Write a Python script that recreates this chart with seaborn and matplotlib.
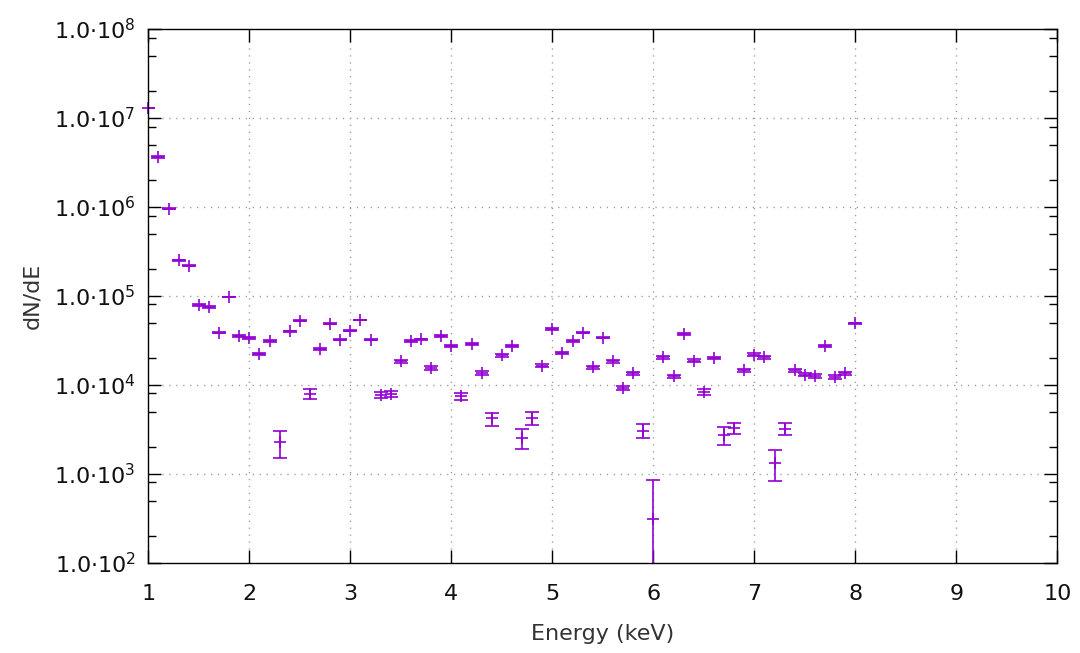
import matplotlib
matplotlib.use("Agg")
import numpy as np
import pandas as pd
import matplotlib.pyplot as plt
import seaborn as sns
from matplotlib.ticker import FixedLocator, FuncFormatter, NullFormatter

# ---- data ----
energy = [1.0, 1.1, 1.2, 1.3, 1.4, 1.5, 1.6, 1.7, 1.8, 1.9,
          2.0, 2.1, 2.2, 2.3, 2.4, 2.5, 2.6, 2.7, 2.8, 2.9,
          3.0, 3.1, 3.2, 3.3, 3.4, 3.5, 3.6, 3.7, 3.8, 3.9,
          4.0, 4.1, 4.2, 4.3, 4.4, 4.5, 4.6, 4.7, 4.8, 4.9,
          5.0, 5.1, 5.2, 5.3, 5.4, 5.5, 5.6, 5.7, 5.8, 5.9,
          6.0, 6.1, 6.2, 6.3, 6.4, 6.5, 6.6, 6.7, 6.8, 6.9,
          7.0, 7.1, 7.2, 7.3, 7.4, 7.5, 7.6, 7.7, 7.8, 7.9,
          8.0]
dnde = [1.3e7, 3.65e6, 9.5e5, 2.5e5, 2.19e5, 7.85e4, 7.5e4, 3.87e4, 9.75e4, 3.56e4,
        3.35e4, 2.21e4, 3.09e4, 2.26e3, 4.0e4, 5.28e4, 7.93e3, 2.54e4, 4.84e4, 3.23e4,
        4.07e4, 5.35e4, 3.23e4, 7.7e3, 7.9e3, 1.84e4, 3.09e4, 3.25e4, 1.55e4, 3.55e4,
        2.76e4, 7.4e3, 2.86e4, 1.36e4, 4.18e3, 2.14e4, 2.71e4, 2.54e3, 4.22e3, 1.63e4,
        4.23e4, 2.27e4, 3.12e4, 3.87e4, 1.57e4, 3.39e4, 1.83e4, 9.2e3, 1.35e4, 3.05e3,
        3.1e2, 2.04e4, 1.24e4, 3.74e4, 1.87e4, 8.4e3, 1.99e4, 2.74e3, 3.25e3, 1.45e4,
        2.19e4, 2.04e4, 1.33e3, 3.2e3, 1.45e4, 1.3e4, 1.25e4, 2.71e4, 1.22e4, 1.35e4,
        4.92e4]
dnde_err = [6.0e4, 9.0e4, 1.0e4, 2.0e3, 2.0e3, 1.5e3, 1.5e3, 700, 800, 700,
            700, 650, 650, 750, 700, 600, 1000, 650, 700, 650,
            650, 600, 650, 600, 600, 650, 700, 650, 650, 700,
            650, 600, 650, 600, 700, 650, 700, 640, 700, 650,
            700, 650, 650, 700, 600, 650, 600, 450, 600, 530,
            540, 650, 600, 700, 650, 650, 650, 610, 480, 600,
            650, 650, 500, 480, 600, 600, 600, 650, 600, 600,
            700]
y_tick_exps = [2, 3, 4, 5, 6, 7, 8]
minor_mults = [2, 5, 8]
x_ticks = [1, 2, 3, 4, 5, 6, 7, 8, 9, 10]

df = pd.DataFrame({"energy": energy, "dnde": dnde, "err": dnde_err})

purple = "#9400D3"

sns.set_style("ticks")
plt.rcParams["font.family"] = ["DejaVu Sans"]
plt.rcParams["mathtext.fontset"] = "dejavusans"

fig = plt.figure(figsize=(10.8, 6.53), dpi=100)
L, R, T, B = 148.3, 1057.3, 29.0, 562.7
ax = fig.add_axes([L / 1080, 1 - B / 653, (R - L) / 1080, (B - T) / 653])
ax.set_yscale("log")
ax.set_xlim(1, 10)
ax.set_ylim(1e2, 1e8)

# grid
gridkw = dict(color="#999999", linewidth=1.0, linestyle=(0, (0.9, 4.1)), zorder=0)
for xv in x_ticks[1:-1]:
    ax.axvline(xv, **gridkw)
for e in y_tick_exps[1:-1]:
    ax.axhline(10.0 ** e, **gridkw)

# error bars
ax.errorbar(df["energy"], df["dnde"], yerr=df["err"], fmt="none",
            ecolor=purple, elinewidth=1.2, capsize=4.7, capthick=1.2, zorder=3)

# centre markers
sns.scatterplot(data=df, x="energy", y="dnde", marker="+", s=85, color=purple,
                linewidth=1.2, ax=ax, legend=False, zorder=4)
for coll in ax.collections:
    if coll.__class__.__name__ == "PathCollection":
        coll.set_clip_on(False)

# ticks
ax.xaxis.set_major_locator(FixedLocator(x_ticks))
ax.xaxis.set_major_formatter(FuncFormatter(lambda v, p: f"{int(round(v))}"))
ax.yaxis.set_major_locator(FixedLocator([10.0 ** e for e in y_tick_exps]))
ax.yaxis.set_minor_locator(FixedLocator([m * 10.0 ** e for e in y_tick_exps[:-1] for m in minor_mults]))
ax.yaxis.set_major_formatter(FuncFormatter(lambda v, p: "1.0·10$^{%d}$" % int(round(np.log10(v)))))
ax.yaxis.set_minor_formatter(NullFormatter())
ax.xaxis.set_minor_locator(FixedLocator([]))

ax.tick_params(which="both", direction="in", top=True, right=True, left=True, bottom=True,
               width=1.0, color="black", labelcolor="#111111", labelsize=16)
ax.tick_params(which="major", length=9.5)
ax.tick_params(which="minor", length=5.5)
ax.tick_params(axis="y", which="major", pad=9)
ax.tick_params(axis="x", which="major", pad=15)

for s in ax.spines.values():
    s.set_color("black")
    s.set_linewidth(1.0)
    s.set_visible(True)
    s.set_zorder(5)

ax.set_xlabel("Energy (keV)", fontsize=16, color="#333333")
ax.set_ylabel("dN/dE", fontsize=16, color="#333333")
ax.xaxis.set_label_coords(0.5, (B - 634) / (B - T), transform=ax.transAxes)
ax.xaxis.label.set_va("center")
ax.yaxis.set_label_coords((32 - L) / (R - L), 0.5, transform=ax.transAxes)
ax.yaxis.label.set_va("center")

fig.savefig("out.png", dpi=100)
